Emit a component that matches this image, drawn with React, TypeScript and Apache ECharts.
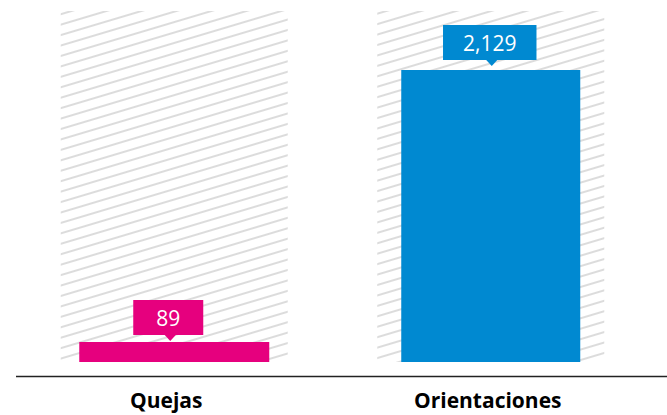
import React, { useEffect, useRef } from "react";
import * as echarts from "echarts";

const CATEGORIES = ["Quejas", "Orientaciones"];
const VALUES = [89, 2129];
const COLORS = ["#E6007E", "#0089D1"];
const Y_MAX = 2560;

const FONT = "'Open Sans', 'DejaVu Sans', sans-serif";
const MIN_H = 20;
const LABEL_DIST = [7, 10];
const LABEL_OFFX = [-6, -1];
const LABEL_PADX = [23, 20];

function makeLabel(i: number) {
  return {
    show: true,
    position: "top",
    distance: LABEL_DIST[i],
    offset: [LABEL_OFFX[i], 0],
    formatter: (p: any) => Number(p.value).toLocaleString("en-US"),
    backgroundColor: COLORS[i],
    color: "#fff",
    fontFamily: FONT,
    fontSize: 21,
    lineHeight: 23,
    padding: [6, LABEL_PADX[i], 6, LABEL_PADX[i]],
  };
}

export default function App() {
  const ref = useRef<HTMLDivElement>(null);
  useEffect(() => {
    if (!ref.current) return;
    const chart = echarts.init(ref.current, null, { renderer: "svg" });
    const pinkData = CATEGORIES.map((_, i) =>
      i === 0 ? { value: VALUES[0], label: makeLabel(0) } : "-"
    );
    const blueData = CATEGORIES.map((_, i) =>
      i === 1 ? { value: VALUES[1], label: makeLabel(1) } : "-"
    );
    chart.setOption({
      animation: false,
      grid: { left: 16, right: 18, top: 11, bottom: 53 },
      xAxis: [
        {
          type: "category",
          data: [
            { value: CATEGORIES[0], textStyle: { padding: [0, 16, 0, 0] } },
            { value: CATEGORIES[1], textStyle: { padding: [0, 6, 0, 0] } },
          ],
          axisLine: { show: false },
          axisTick: { show: false },
          axisLabel: {
            margin: 27,
            fontFamily: FONT,
            fontWeight: "bold",
            fontSize: 21,
            color: "#000",
          },
        },
        { type: "category", data: CATEGORIES, show: false },
        { type: "category", data: CATEGORIES, show: false },
      ],
      yAxis: { type: "value", min: 0, max: Y_MAX, show: false, splitLine: { show: false } },
      series: [
        {
          type: "bar",
          xAxisIndex: 0,
          data: CATEGORIES.map(() => Y_MAX),
          barWidth: 227,
          silent: true,
          z: 1,
          itemStyle: {
            color: "#ffffff",
            decal: {
              symbol: "rect",
              symbolSize: 1,
              color: "#dcdcdc",
              dashArrayX: [1, 0],
              dashArrayY: [2, 7.3],
              rotation: -0.29,
            },
          },
        },
        {
          type: "bar",
          xAxisIndex: 1,
          data: pinkData,
          barWidth: 190,
          barMinHeight: MIN_H,
          z: 3,
          itemStyle: { color: COLORS[0] },
        },
        {
          type: "bar",
          xAxisIndex: 2,
          data: blueData,
          barWidth: 179,
          z: 3,
          itemStyle: { color: COLORS[1] },
        },
        {
          type: "custom",
          xAxisIndex: 0,
          z: 4,
          silent: true,
          data: VALUES.map((v, i) => [i, v]),
          renderItem: (params: any, api: any) => {
            const idx = api.value(0);
            const v = api.value(1);
            const pt = api.coord([idx, v]);
            const base = api.coord([idx, 0]);
            const top = Math.min(pt[1], base[1] - MIN_H);
            const y0 = top - LABEL_DIST[idx];
            const x = pt[0] + LABEL_OFFX[idx] + 2;
            return {
              type: "polygon",
              shape: { points: [[x - 6, y0 - 0.5], [x + 6, y0 - 0.5], [x, y0 + 6]] },
              style: { fill: COLORS[idx] },
            };
          },
        },
      ],
      graphic: [
        {
          type: "line",
          shape: { x1: 16, y1: 376.5, x2: 667, y2: 376.5 },
          style: { stroke: "#222", lineWidth: 1.5 },
          silent: true,
        },
      ],
    });
    return () => chart.dispose();
  }, []);
  return (
    <div
      ref={ref}
      style={{ position: "absolute", left: 0, top: 0, width: 667, height: 415 }}
    />
  );
}
